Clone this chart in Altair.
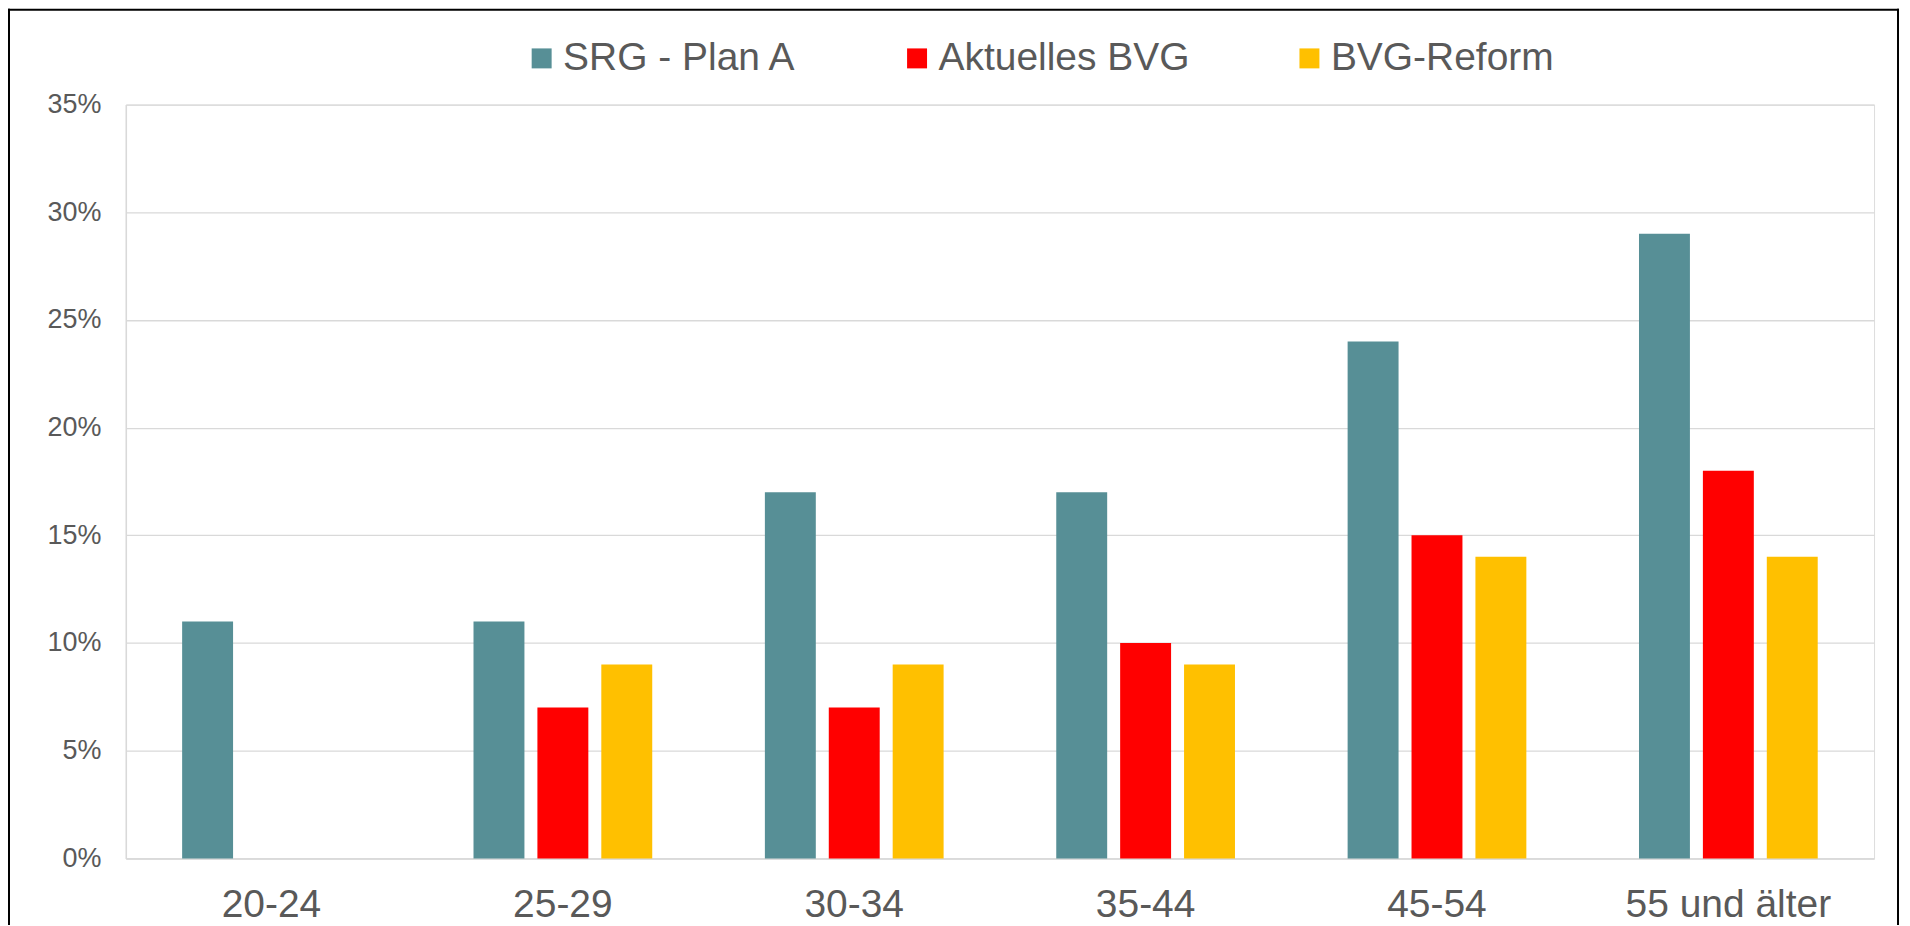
import altair as alt
import pandas as pd

categories = ["20-24", "25-29", "30-34", "35-44", "45-54", "55 und älter"]
series = ["SRG - Plan A", "Aktuelles BVG", "BVG-Reform"]
srg_plan_a = [0.11, 0.11, 0.17, 0.17, 0.24, 0.29]
aktuelles_bvg = [None, 0.07, 0.07, 0.10, 0.15, 0.18]
bvg_reform = [None, 0.09, 0.09, 0.09, 0.14, 0.14]
colors = ["#578F96", "#FF0000", "#FFC000"]
y_ticks = [0, 0.05, 0.10, 0.15, 0.20, 0.25, 0.30, 0.35]

rows = []
for name, vals in zip(series, [srg_plan_a, aktuelles_bvg, bvg_reform]):
    for cat, v in zip(categories, vals):
        if v is not None:
            rows.append({"Altersgruppe": cat, "Serie": name, "Wert": v})
df = pd.DataFrame(rows)

FONT = "Liberation Sans"
GRAY = "#595959"
LIGHT = "#D9D9D9"

bars = alt.Chart(df).mark_bar().encode(
    x=alt.X(
        "Altersgruppe:N",
        sort=categories,
        scale=alt.Scale(paddingInner=0.3866, paddingOuter=0.1933),
        axis=alt.Axis(
            title=None, labelAngle=0, labelFontSize=39, labelColor=GRAY,
            labelFont=FONT, ticks=False, labelPadding=27, labelLimit=500,
            domainColor=LIGHT, domainWidth=1.5, grid=False,
        ),
    ),
    xOffset=alt.XOffset(
        "Serie:N", sort=series,
        scale=alt.Scale(paddingInner=0.203, paddingOuter=0),
    ),
    y=alt.Y(
        "Wert:Q",
        scale=alt.Scale(domain=[0, 0.35], nice=False),
        axis=alt.Axis(
            title=None, values=y_ticks, format=".0%", labelFontSize=27,
            labelColor=GRAY, labelFont=FONT, ticks=False, labelPadding=25,
            domainColor=LIGHT, domainWidth=1.5, gridColor=LIGHT, gridWidth=1.3,
        ),
    ),
    color=alt.Color(
        "Serie:N", sort=series,
        scale=alt.Scale(domain=series, range=colors),
        legend=alt.Legend(
            title=None, orient="none", legendX=397, legendY=-66,
            direction="horizontal", symbolType="square", symbolSize=400,
            symbolStrokeWidth=0, labelFontSize=39, labelColor=GRAY,
            labelFont=FONT, labelOffset=2, columnPadding=100,
            labelLimit=500, padding=0,
        ),
    ),
)

frame_data = alt.Data(values=[{"k": 1}])
top_line = alt.Chart(frame_data).mark_rule(color="black", strokeWidth=2).encode(
    x=alt.value(-118), x2=alt.value(1776), y=alt.value(-95)
)
left_line = alt.Chart(frame_data).mark_rule(color="black", strokeWidth=2).encode(
    x=alt.value(-117), y=alt.value(-96), y2=alt.value(830)
)
right_line = alt.Chart(frame_data).mark_rule(color="black", strokeWidth=2).encode(
    x=alt.value(1775), y=alt.value(-96), y2=alt.value(830)
)

chart = alt.layer(bars, top_line, left_line, right_line).properties(
    width=1751,
    height=755,
    autosize=alt.AutoSizeParams(type="none"),
    padding={"left": 118, "top": 96, "right": 28, "bottom": 66},
).configure_view(stroke=None).configure(background="white")

chart.save("out.html", embed_options={"renderer": "svg", "actions": False})
